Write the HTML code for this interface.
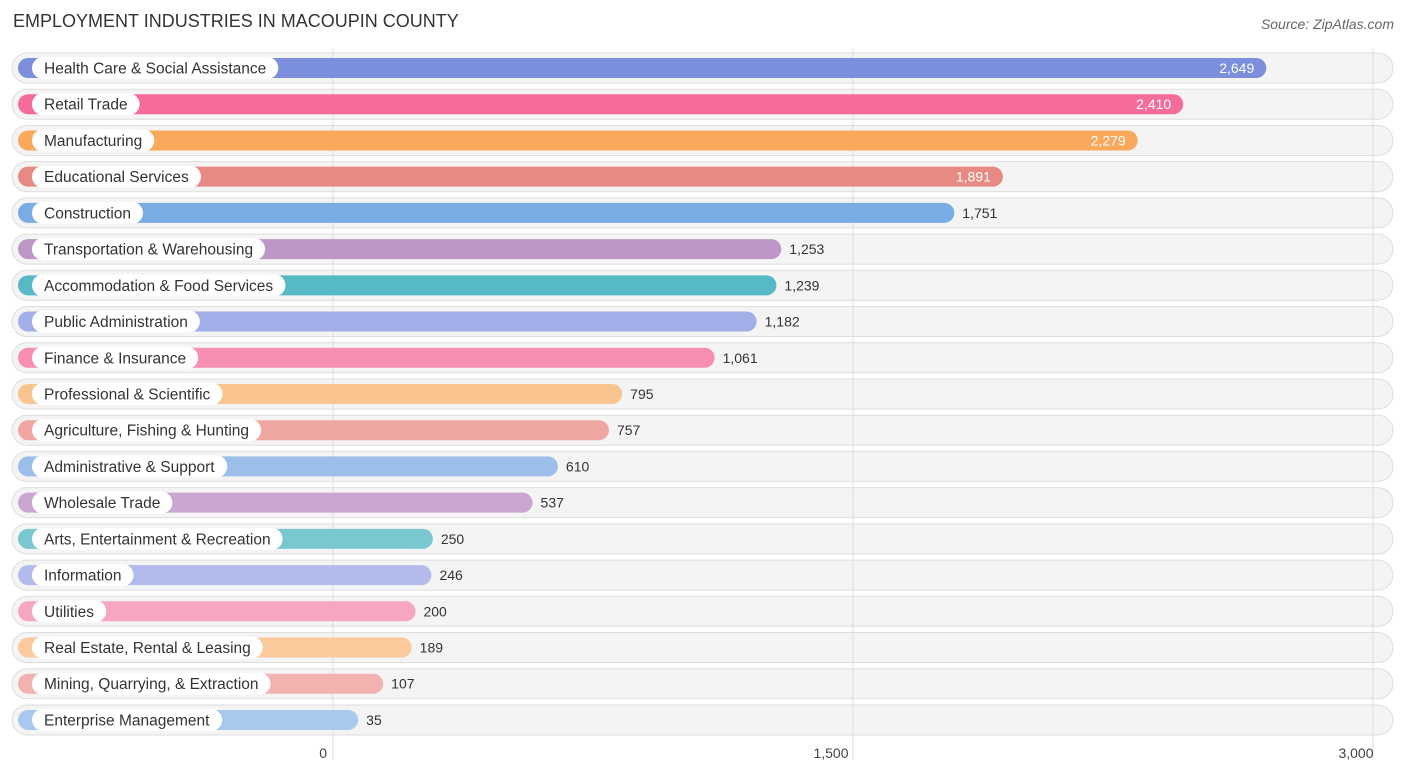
<!DOCTYPE html>
<html><head><meta charset="utf-8"><style>
body{margin:0;width:1406px;height:776px;background:#fff;font-family:"Liberation Sans",sans-serif;position:relative;overflow:hidden}
.t{position:absolute;left:13px;top:11px;font-size:18px;color:#333}
.s{position:absolute;right:12px;top:16px;font-size:14px;color:#666;font-style:italic}
</style></head><body>
<div class="t">EMPLOYMENT INDUSTRIES IN MACOUPIN COUNTY</div>
<div class="s">Source: ZipAtlas.com</div>
<svg id="c" width="1406" height="776" style="position:absolute;left:0;top:0"></svg>
<script>
const categories=["Health Care & Social Assistance","Retail Trade","Manufacturing","Educational Services","Construction","Transportation & Warehousing","Accommodation & Food Services","Public Administration","Finance & Insurance","Professional & Scientific","Agriculture, Fishing & Hunting","Administrative & Support","Wholesale Trade","Arts, Entertainment & Recreation","Information","Utilities","Real Estate, Rental & Leasing","Mining, Quarrying, & Extraction","Enterprise Management"];
const values=[2649,2410,2279,1891,1751,1253,1239,1182,1061,795,757,610,537,250,246,200,189,107,35];
const colors=["#7b8fdc","#f46c97","#f9a95c","#e88a84","#78ace3","#bd97c8","#56b9c5","#a2aee8","#f68fb1","#f9c48d","#f0a7a1","#9bbfe9","#c9a7d0","#7ac8cf","#b2bbeb","#f7a6c2","#fac99c","#f2b3b0","#a9c8ee"];
const ticks=[0,1500,3000];
const tickLabels=["0","1,500","3,000"];
const NS="http://www.w3.org/2000/svg",svg=document.getElementById('c');
const xBar=v=>346+v*0.3474, xGrid=v=>333+v*(520/1500), yRow=i=>68+i*36.22;
function mk(t,a,p){const e=document.createElementNS(NS,t);for(const k in a)e.setAttribute(k,a[k]);(p||svg).appendChild(e);return e;}
const m=document.createElement('div');
categories.forEach((c,i)=>{const y=yRow(i);
 const bg=mk('rect',{x:12,y:y-15,width:1381,height:30,rx:15,fill:'#f4f4f4',stroke:'#dedede'});
 });
ticks.forEach((t,i)=>{const x=xGrid(t);
 const l=mk('line',{x1:x,x2:x,y1:48,y2:760,stroke:'#ddd'});
 
 const tx=mk('text',{x:i==0?x-7:x-24+(i==2?2:0),y:758,'font-size':14,fill:'#444','text-anchor':i==0?'end':'middle'});
 tx.setAttribute('x',i==0?x-6:(i==1?x-22:x-17));tx.textContent=tickLabels[i];
 });
categories.forEach((c,i)=>{const y=yRow(i),xe=xBar(values[i]);
 const b=mk('rect',{x:18,y:y-10,width:xe-18,height:20,rx:10,fill:colors[i]});
 
 const tl=mk('text',{x:44,y:y+5.5,'font-size':15.5,fill:'#333'});tl.textContent=c;
 
 const w=tl.getBBox().width;
 const p=mk('rect',{x:32,y:y-11,width:w+24,height:22,rx:11,fill:'#fff'});
 svg.insertBefore(p,tl);
 
 const inside=i<4;
 const v=mk('text',{x:inside?xe-12:xe+8,y:y+5,'font-size':14,fill:inside?'#fff':'#333','text-anchor':inside?'end':'start'});
 v.textContent=values[i].toLocaleString('en-US');
 });
</script>
</body></html>
